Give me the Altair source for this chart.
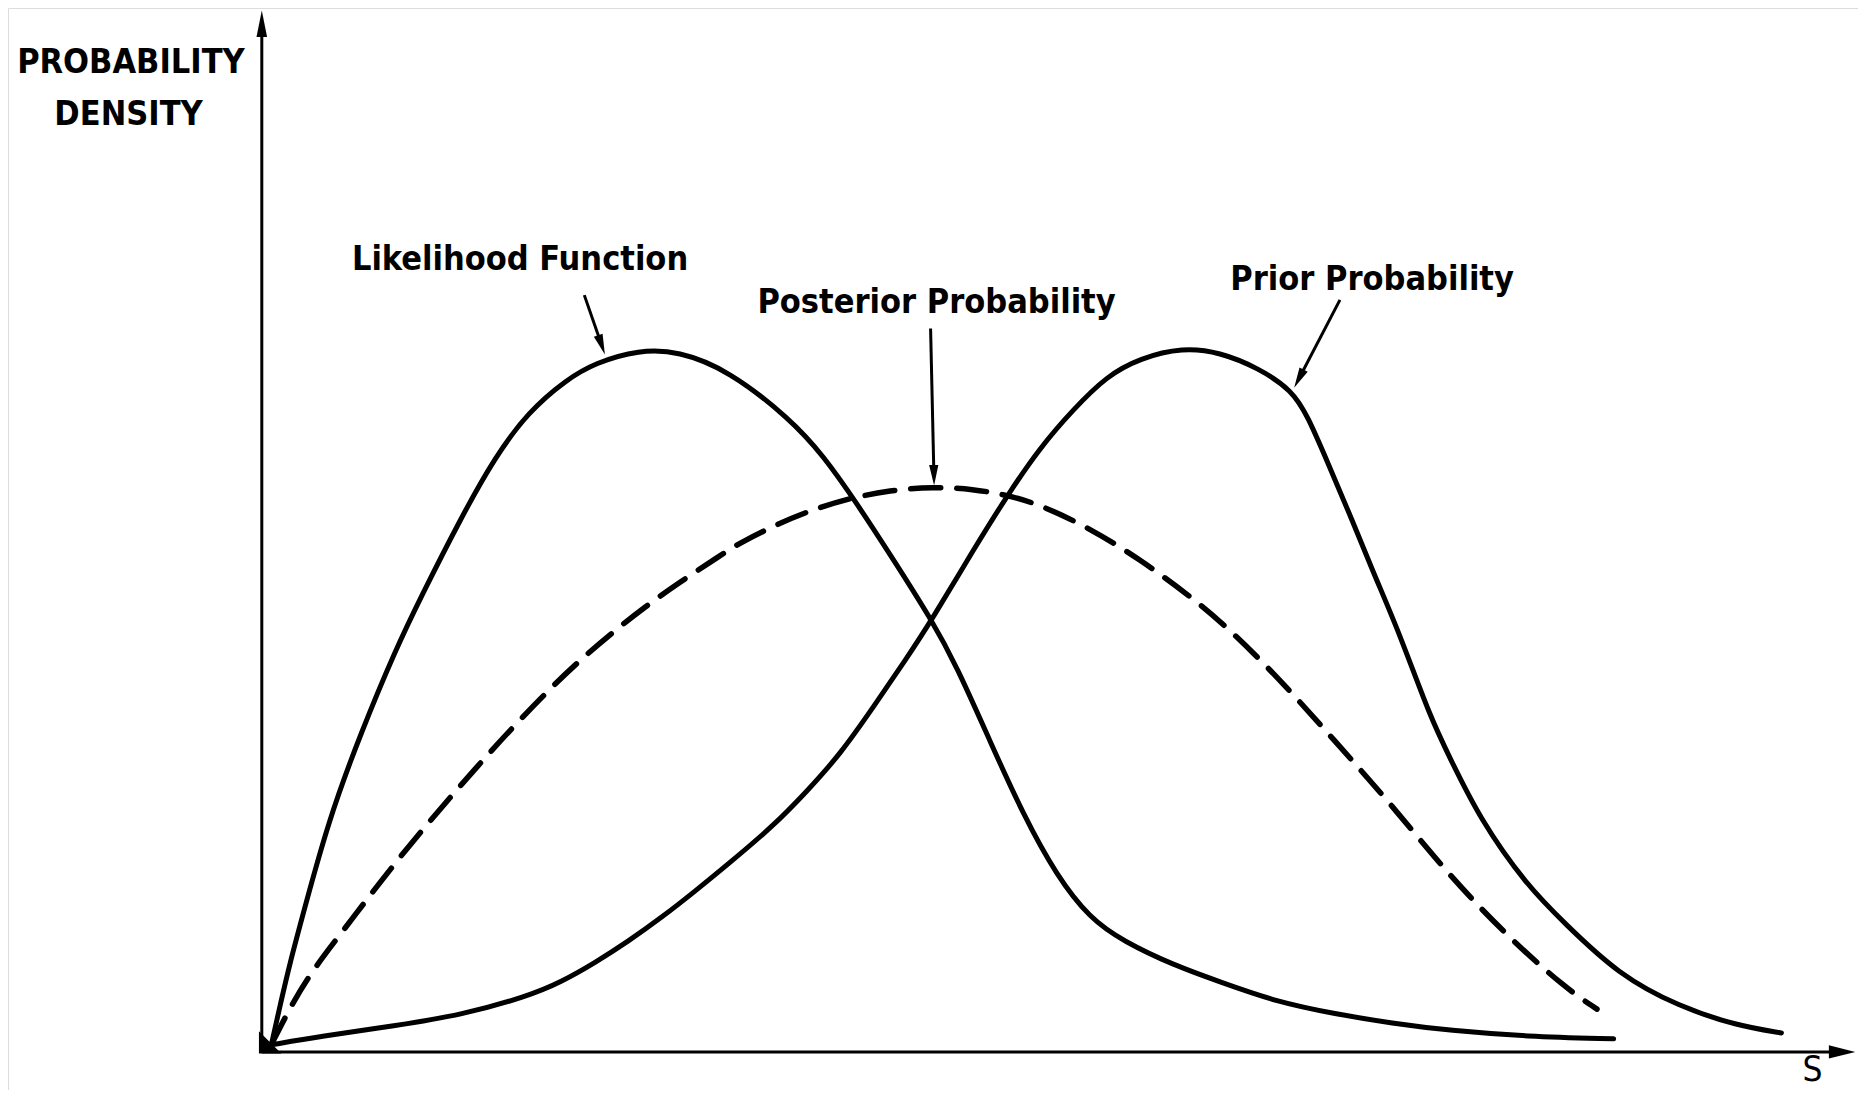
import altair as alt
import pandas as pd

# ---- curve readings (S units, density units) ----
lik_s = [8, 16, 24, 32, 56, 84, 112, 133, 168, 196, 224, 256, 280, 317, 350, 392, 444, 472, 500, 528, 563, 584, 612, 640, 668, 696, 724, 766, 805, 853, 902, 950, 998, 1063, 1136]
lik_d = [6, 42, 76, 106, 195, 270, 337, 381, 450, 500, 538, 565, 579, 590, 589, 573, 532, 501, 461, 418, 363, 324, 261, 199, 148, 112, 93, 73, 59, 42, 32, 24, 18, 13, 11]

pri_s = [8, 49, 112, 168, 224, 252, 280, 308, 336, 364, 392, 430, 458, 486, 514, 542, 563, 598, 626, 654, 682, 710, 738, 774, 805, 837, 866, 879, 895, 915, 934, 956, 982, 998, 1024, 1063, 1095, 1140, 1191, 1240, 1277]
pri_d = [6, 13, 22, 31, 47, 59, 75, 93, 113, 135, 158, 190, 219, 250, 290, 331, 363, 422, 467, 508, 540, 568, 583, 592, 588, 575, 556, 534, 497, 450, 403, 352, 281, 248, 195, 140, 108, 65, 38, 22, 16]

post_s = [8, 23, 42, 70, 98, 126, 154, 182, 210, 242, 266, 294, 322, 350, 385, 402, 430, 458, 492, 528, 564, 598, 626, 654, 696, 738, 780, 808, 853, 902, 950, 998, 1047, 1095, 1122]
post_d = [6, 36, 68, 104, 141, 176, 209, 241, 272, 305, 328, 352, 374, 394, 417, 428, 442, 454, 465, 472, 475, 473, 468, 460, 440, 414, 383, 360, 316, 261, 207, 148, 97, 54, 36]

# ---- axes ----
axis_s = [0, 0]
axis_d = [0, 0]
axis_s2 = [0, 1330]
axis_d2 = [866, 0]
head_s = [0, 1328]
head_d = [864, 0]
head_shape = ["M0,-1L0.4,1L-0.4,1Z", "M1,0L-1,0.5L-1,-0.5Z"]
origin_s = [7]
origin_d = [8]

# ---- annotation arrows ----
ann_s = [271, 562, 906]
ann_d = [636, 608, 632]
ann_s2 = [285.5, 564.8, 871.5]
ann_d2 = [594.2, 484.6, 565.7]
ann_angle = [161, 179, 207.5]

# ---- labels ----
lab_text = ["Likelihood Function", "Posterior Probability", "Prior Probability"]
lab_s = [217, 567, 933]
lab_d = [657, 621, 640]
ylab_text = ["PROBABILITY", "DENSITY"]
ylab_s = [-110, -112]
ylab_d = [823, 779]
xlab_text = ["S"]
xlab_s = [1303]
xlab_d = [-24.4]

rows = []
for name, S, D in [("Likelihood Function", lik_s, lik_d), ("Prior Probability", pri_s, pri_d)]:
    for i, (s, d) in enumerate(zip(S, D)):
        rows.append({"curve": name, "i": i, "s": s, "d": d})
solid_df = pd.DataFrame(rows)
post_df = pd.DataFrame({"s": post_s, "d": post_d, "i": list(range(len(post_s)))})

xs = alt.Scale(domain=[-213.28, 1341.34], nice=False, zero=False)
ys = alt.Scale(domain=[-31.97, 877.28], nice=False, zero=False)
X = lambda f: alt.X(f, type="quantitative", scale=xs, axis=None)
Y = lambda f: alt.Y(f, type="quantitative", scale=ys, axis=None)

solid = alt.Chart(solid_df).mark_line(
    color="black", strokeWidth=5, strokeCap="round", strokeJoin="round", interpolate="basis"
).encode(x=X("s"), y=Y("d"), detail="curve:N", order="i:Q")

dashed = alt.Chart(post_df).mark_line(
    color="black", strokeWidth=5.5, strokeCap="round", strokeDash=[30, 16], interpolate="basis"
).encode(x=X("s"), y=Y("d"), order="i:Q")

axes_df = pd.DataFrame({"s": axis_s, "d": axis_d, "s2": axis_s2, "d2": axis_d2})
axes = alt.Chart(axes_df).mark_rule(color="black", strokeWidth=3).encode(
    x=X("s"), y=Y("d"), x2="s2:Q", y2="d2:Q"
)
heads = alt.layer(*[
    alt.Chart(pd.DataFrame({"s": [head_s[k]], "d": [head_d[k]]})).mark_point(
        shape=head_shape[k], filled=True, color="black", opacity=1, size=700
    ).encode(x=X("s"), y=Y("d"))
    for k in range(2)
])
origin = alt.Chart(pd.DataFrame({"s": origin_s, "d": origin_d})).mark_point(
    shape="M-1,1L1,1L-1,-1Z", filled=True, color="black", opacity=1, size=500
).encode(x=X("s"), y=Y("d"))

ann_df = pd.DataFrame({"s": ann_s, "d": ann_d, "s2": ann_s2, "d2": ann_d2, "angle": ann_angle})
ann_lines = alt.Chart(ann_df).mark_rule(color="black", strokeWidth=3).encode(
    x=X("s"), y=Y("d"), x2="s2:Q", y2="d2:Q"
)
ann_heads = alt.Chart(ann_df).mark_point(
    shape="M0,-1L0.45,1L-0.45,1Z", filled=True, color="black", opacity=1, size=420
).encode(x=X("s2"), y=Y("d2"), angle=alt.Angle("angle:Q", scale=None))

FONT = "DejaVu Sans Condensed, Liberation Sans Narrow, Liberation Sans, sans-serif"
labels = alt.Chart(pd.DataFrame({"t": lab_text, "s": lab_s, "d": lab_d})).mark_text(
    font=FONT, fontSize=34, fontWeight="bold", color="black", align="center", baseline="alphabetic"
).encode(x=X("s"), y=Y("d"), text="t:N")
ylabels = alt.Chart(pd.DataFrame({"t": ylab_text, "s": ylab_s, "d": ylab_d})).mark_text(
    font=FONT, fontSize=34, fontWeight="bold", color="black", align="center", baseline="alphabetic"
).encode(x=X("s"), y=Y("d"), text="t:N")
xlabel = alt.Chart(pd.DataFrame({"t": xlab_text, "s": xlab_s, "d": xlab_d})).mark_text(
    font=FONT, fontSize=35, color="black", align="center", baseline="alphabetic"
).encode(x=X("s"), y=Y("d"), text="t:N")

chart = alt.layer(axes, heads, origin, solid, dashed, ann_lines, ann_heads, labels, ylabels, xlabel).properties(
    width=1850, height=1082, autosize=alt.AutoSizeParams(type="none"), padding=0
).configure_view(stroke=None).configure(background="white")

chart.save("out.html", embed_options={"renderer": "svg", "actions": False})
